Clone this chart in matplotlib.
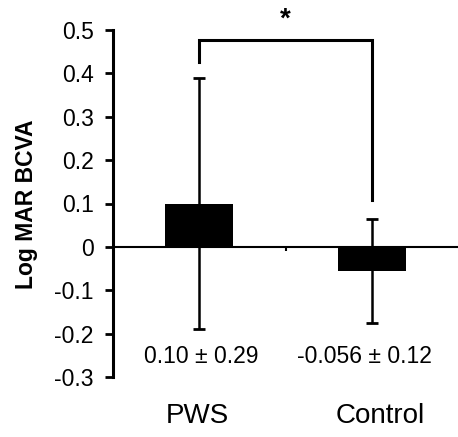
import matplotlib
matplotlib.use("Agg")
import matplotlib.pyplot as plt

plt.rcParams['font.family'] = ['Liberation Sans', 'DejaVu Sans']

categories = ["PWS", "Control"]
means = [0.10, -0.056]
sds = [0.29, 0.12]
value_labels = ["0.10 \u00b1 0.29", "-0.056 \u00b1 0.12"]
yticks = [-0.3, -0.2, -0.1, 0, 0.1, 0.2, 0.3, 0.4, 0.5]
ytick_labels = ["-0.3", "-0.2", "-0.1", "0", "0.1", "0.2", "0.3", "0.4", "0.5"]

W, H = 458, 437
fig = plt.figure(figsize=(W/100, H/100), dpi=100)
ax = fig.add_axes([113/W, (H-377)/H, (W-113)/W, (377-30)/H])

xpos = [0.5, 1.5]
ax.bar(xpos, means, width=0.395, color="black", zorder=2)
ax.errorbar(xpos, means, yerr=sds, fmt="none", ecolor="black", elinewidth=1.8,
            capsize=4.5, capthick=2.0, zorder=3, clip_on=False)

ax.set_xlim(0, 2)
ax.set_ylim(-0.3, 0.5)
ax.set_yticks(yticks)
ax.set_yticklabels(ytick_labels, fontsize=16.5)
ax.tick_params(axis="y", direction="out", length=5.8, width=2.0, pad=8)

for s in ["top", "right"]:
    ax.spines[s].set_visible(False)
ax.spines["left"].set_linewidth(2.2)
ax.spines["bottom"].set_position(("data", 0))
ax.spines["bottom"].set_linewidth(1.5)
ax.set_xticks([1])
ax.set_xticklabels([""])
ax.tick_params(axis="x", direction="out", length=3, width=1.5)

# value labels and category labels
for x, lab in zip(xpos, value_labels):
    ax.text(x + (0.01 if x < 1 else -0.045), -0.253, lab, ha="center", va="center",
            fontsize=16.5, clip_on=False)
cat_x = [0.49, 1.55]
for x, lab in zip(cat_x, categories):
    ax.text(x, -0.39, lab, ha="center", va="center", fontsize=20, clip_on=False)

# significance bracket
ax.plot([0.5, 0.5, 1.5, 1.5], [0.426, 0.477, 0.477, 0.108], color="black",
        lw=2.2, clip_on=False, solid_joinstyle="miter")
ax.text(1.0, 0.523, "*", ha="center", va="center", fontsize=20, fontweight="bold",
        clip_on=False)

fig.text(27/W, (H-204)/H, "Log MAR BCVA", rotation=90, ha="center", va="center",
         fontsize=16.5, fontweight="bold")

fig.savefig("out.png", dpi=100)
